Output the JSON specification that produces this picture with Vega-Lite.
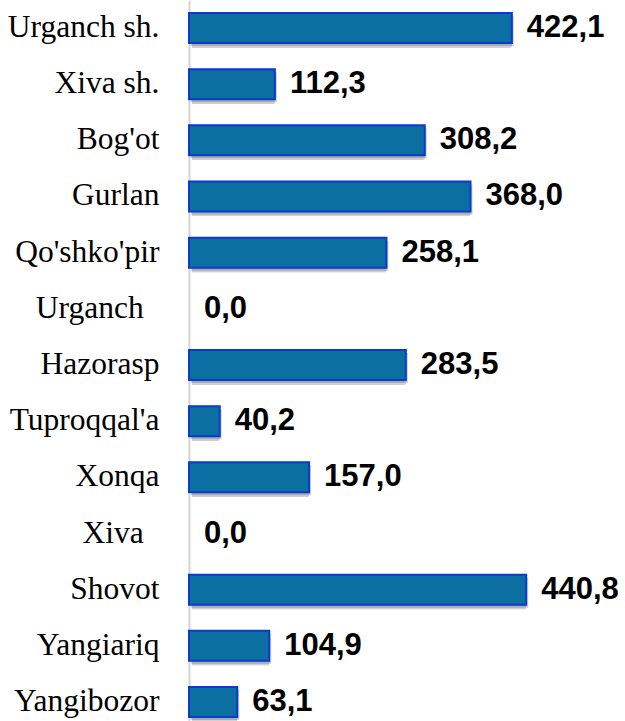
{
  "$schema": "https://vega.github.io/schema/vega-lite/v6.json",
  "autosize": {"type": "none"},
  "padding": {"left": 189, "top": 0, "right": 0, "bottom": 0},
  "width": 436,
  "height": 730,
  "background": "white",
  "config": {
    "view": {"stroke": null},
    "locale": {"number": {"decimal": ",", "thousands": " ", "grouping": [3], "currency": ["", ""]}}
  },
  "data": {
    "values": [
      {"region": "Urganch sh.", "v": 422.1},
      {"region": "Xiva sh.", "v": 112.3},
      {"region": "Bog'ot", "v": 308.2},
      {"region": "Gurlan", "v": 368.0},
      {"region": "Qo'shko'pir", "v": 258.1},
      {"region": "Urganch\u2002\u200b", "v": 0.0},
      {"region": "Hazorasp", "v": 283.5},
      {"region": "Tuproqqal'a", "v": 40.2},
      {"region": "Xonqa", "v": 157.0},
      {"region": "Xiva\u2002\u200b", "v": 0.0},
      {"region": "Shovot", "v": 440.8},
      {"region": "Yangiariq", "v": 104.9},
      {"region": "Yangibozor", "v": 63.1}
    ]
  },
  "encoding": {
    "y": {
      "field": "region",
      "type": "nominal",
      "sort": null,
      "scale": {"paddingInner": 0.466, "paddingOuter": 0.231},
      "axis": {
        "title": null,
        "ticks": false,
        "domain": true,
        "domainColor": "#d4d4d4",
        "domainWidth": 2,
        "labelFont": "Liberation Serif",
        "labelFontSize": 31.5,
        "labelColor": "#000000",
        "labelPadding": 30,
        "labelLimit": 300
      }
    },
    "x": {
      "field": "v",
      "type": "quantitative",
      "scale": {"domain": [0, 570], "nice": false, "zero": true},
      "axis": null
    }
  },
  "layer": [
    {
      "mark": {"type": "bar", "color": "#000000", "xOffset": 3, "yOffset": 5, "cornerRadius": 2},
      "encoding": {
        "opacity": {"condition": {"test": "datum.v > 0", "value": 0.18}, "value": 0}
      }
    },
    {
      "mark": {"type": "bar", "color": "#000000", "xOffset": 2, "yOffset": 3},
      "encoding": {
        "opacity": {"condition": {"test": "datum.v > 0", "value": 0.18}, "value": 0}
      }
    },
    {
      "mark": {"type": "bar", "fill": "#0B6FA1", "stroke": "#0A3ACF", "strokeWidth": 2},
      "encoding": {
        "strokeOpacity": {"condition": {"test": "datum.v > 0", "value": 1}, "value": 0},
        "fillOpacity": {"condition": {"test": "datum.v > 0", "value": 1}, "value": 0}
      }
    },
    {
      "mark": {"type": "text", "align": "left", "baseline": "middle", "dx": 15, "font": "Liberation Sans", "fontWeight": "bold", "fontSize": 31, "color": "#000000"},
      "encoding": {
        "text": {"field": "v", "type": "quantitative", "format": ".1f"}
      }
    }
  ]
}
